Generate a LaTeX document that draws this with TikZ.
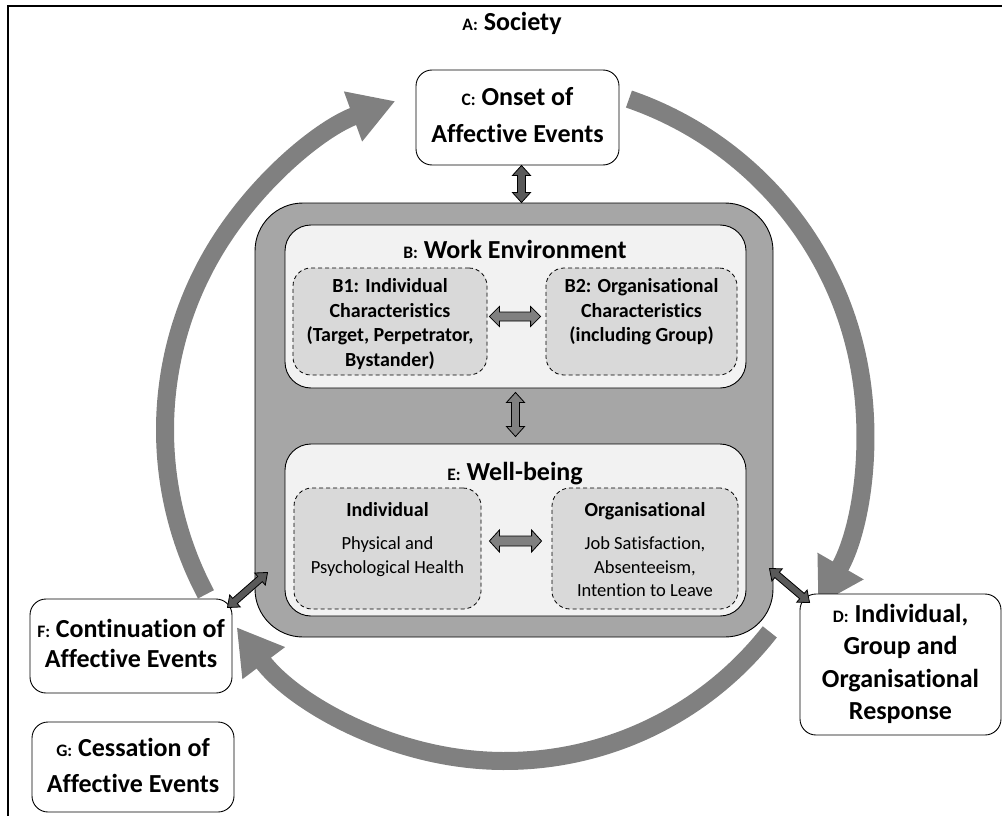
\documentclass[tikz,border=0pt]{standalone}
\usepackage{fontspec}
\setmainfont{Carlito}[Ligatures=NoCommon,Contextuals=NoAlternate]
\usetikzlibrary{calc}
\usetikzlibrary{arrows.meta}
\usetikzlibrary{positioning}

\definecolor{cyclegrey}{HTML}{808080}
\definecolor{boxgrey}{HTML}{A6A6A6}
\definecolor{panelgrey}{HTML}{F2F2F2}
\definecolor{subgrey}{HTML}{D9D9D9}
\definecolor{darkgrey}{HTML}{595959}
\definecolor{midgrey}{HTML}{808080}

\newcommand{\pre}[1]{{\fontsize{17.5}{17.5}\selectfont #1:}}
\newcommand{\bigfont}[1]{\fontsize{26}{#1}\selectfont\bfseries}
\newcommand{\subfont}{\fontsize{20}{24.5}\selectfont\bfseries}
\newcommand{\descfont}{\fontsize{18.5}{23.5}\selectfont}
\newcommand{\dblarrow}[6]{%
  \path (#2) coordinate (da-s) (#3) coordinate (da-e);
  \draw[fill=#1,line width=0.8pt] (da-s)
    -- ($(da-s)!#4!(da-e)!#5!90:(da-e)$)
    -- ($(da-s)!#4!(da-e)!#6!90:(da-e)$)
    -- ($(da-e)!#4!(da-s)!#6!-90:(da-s)$)
    -- ($(da-e)!#4!(da-s)!#5!-90:(da-s)$)
    -- (da-e)
    -- ($(da-e)!#4!(da-s)!#5!90:(da-s)$)
    -- ($(da-e)!#4!(da-s)!#6!90:(da-s)$)
    -- ($(da-s)!#4!(da-e)!#6!-90:(da-e)$)
    -- ($(da-s)!#4!(da-e)!#5!-90:(da-e)$)
    -- cycle;}

\begin{document}
\begin{tikzpicture}[x=1pt,y=-1pt,
  box/.style={draw,rounded corners=16pt,fill=white,line width=0.9pt,align=center,inner sep=0pt},
  bigbox/.style={draw,rounded corners=48pt,fill=boxgrey,line width=0.9pt},
  panel/.style={draw,rounded corners=26pt,fill=panelgrey,line width=0.9pt},
  subbox/.style={draw,dash pattern=on 4pt off 3pt,rounded corners=18pt,fill=subgrey,line width=0.8pt},
  subtxt/.style={align=center,inner sep=0pt,font=\subfont},
  desctxt/.style={align=center,inner sep=0pt,font=\descfont},
  cyclearrow/.style={line width=18pt,cyclegrey,-{Triangle[width=50pt,length=45pt]}}]
  \useasboundingbox (0,0) rectangle (1002,816);
  \draw[line width=1.3pt] (8,830) -- (8,6) -- (1012,6);

  \coordinate (O) at (515,430);
  \coordinate (O2) at (505,425);
  \draw[cyclearrow] ([shift={(152:350)}]O) arc[start angle=152,end angle=250,radius=350];
  \draw[cyclearrow] ([shift={(289:350)}]O) arc[start angle=289,end angle=390,radius=350];
  \draw[cyclearrow] ([shift={(38:336)}]O2) arc[start angle=38,end angle=143,radius=336];

  \node (A) at (512,31)[anchor=base,font={\bigfont{36}}]{\pre{A} Society};

  \node (C) at (517.5,117.5)[box,minimum width=203pt,minimum height=95pt,font={\bigfont{37}}]
    {\strut\pre{C} Onset of\\\strut Affective Events\rule[-12pt]{0pt}{0pt}};
  \node (D) at (900.5,664.5)[box,minimum width=201pt,minimum height=141pt,font={\bigfont{32.3}}]
    {\strut\pre{D} Individual,\\\strut Group and\\\strut Organisational\\\strut Response};
  \node (F) at (131,646)[box,minimum width=202pt,minimum height=94pt,font={\bigfont{30}}]
    {\strut\pre{F} Continuation of\\\strut Affective Events};
  \node (G) at (133,767)[box,minimum width=202pt,minimum height=90pt,font={\bigfont{36}}]
    {\strut\pre{G} Cessation of\\\strut Affective Events\rule[-6pt]{0pt}{0pt}};

  \node (WE) at (514,420)[bigbox,minimum width=518pt,minimum height=434pt]{};

  \node (BW) at (515.5,306.5)[panel,minimum width=461pt,minimum height=163pt]{};
  \node (BWt) at (515,258)[anchor=base,font={\bigfont{36}}]{\pre{B} Work Environment};
  \node (B1) at (390,321.5)[subbox,minimum width=194pt,minimum height=107pt]{};
  \node (B2) at (641.5,321.5)[subbox,minimum width=191pt,minimum height=107pt]{};
  \node[subtxt,below=8pt of B1.north] (B1t)
    {\strut B1: Individual\\\strut Characteristics\\\strut (Target, Perpetrator,\\\strut Bystander)};
  \node[subtxt,below=8pt of B2.north] (B2t)
    {\strut B2: Organisational\\\strut Characteristics\\\strut (including Group)};

  \node (EW) at (515.5,530)[panel,minimum width=461pt,minimum height=172pt]{};
  \node (EWt) at (515,480)[anchor=base,font={\bigfont{36}}]{\pre{E} Well-being};
  \node (EI) at (387.5,548.5)[subbox,minimum width=187pt,minimum height=121pt]{};
  \node (EO) at (645,548.5)[subbox,minimum width=186pt,minimum height=121pt]{};
  \node[desctxt,below=12.5pt of EI.north] (EIt)
    {\strut\textbf{\fontsize{20}{23.5}\selectfont Individual}\\[9.5pt]\strut Physical and\\\strut Psychological Health};
  \node[desctxt,below=12.5pt of EO.north] (EOt)
    {\strut\textbf{\fontsize{20}{23.5}\selectfont Organisational}\\[9.5pt]\strut Job Satisfaction,\\\strut Absenteeism,\\\strut Intention to Leave};

  \dblarrow{darkgrey}{$(C.south)+(4,0)$}{$(C.south |- WE.north)+(4,0)$}{10pt}{9pt}{4pt}
  \dblarrow{midgrey}{[shift={(2,-5)}]B1.east}{[shift={(-5,-5)}]B2.west}{10pt}{10pt}{4.5pt}
  \dblarrow{midgrey}{[shift={(0,4)}]BW.south}{[shift={(0,-7)}]EW.north}{10pt}{9pt}{4pt}
  \dblarrow{midgrey}{[shift={(8,-7.5)}]EI.east}{[shift={(-10,-7.5)}]EO.west}{10pt}{11pt}{5pt}
  \dblarrow{darkgrey}{[shift={(-5,9)}]F.north east}{[shift={(13,-65)}]WE.south west}{10pt}{8pt}{3.5pt}
  \dblarrow{darkgrey}{[shift={(-4,-69)}]WE.south east}{[shift={(10,9)}]D.north west}{10pt}{8pt}{3.5pt}
\end{tikzpicture}
\end{document}
